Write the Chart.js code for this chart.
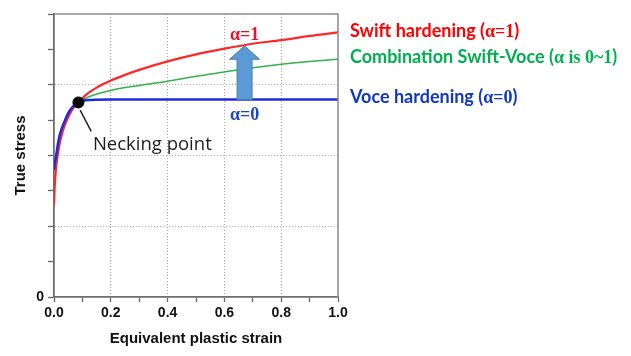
<!DOCTYPE html>
<html>
<head>
<meta charset="utf-8">
<script src="https://cdn.jsdelivr.net/npm/chart.js@4.4.1/dist/chart.umd.min.js"></script>
<style>
html,body{margin:0;padding:0;background:#fff;}
canvas{display:block;}
</style>
</head>
<body>
<canvas id="c" width="631" height="356"></canvas>
<script>
// ---- data ----
const swiftStrain = [0, 0.002, 0.005, 0.01, 0.015, 0.02, 0.03, 0.04, 0.05, 0.06, 0.07, 0.086, 0.1, 0.12, 0.15, 0.2, 0.25, 0.3, 0.4, 0.5, 0.6, 0.7, 0.8, 0.9, 1.0];
const swiftStress = [1.30, 1.52, 1.72, 1.92, 2.05, 2.17, 2.33, 2.45, 2.54, 2.62, 2.68, 2.75, 2.81, 2.88, 2.96, 3.06, 3.14, 3.21, 3.33, 3.43, 3.51, 3.58, 3.63, 3.69, 3.74];

const voceStrain = [0, 0.003, 0.007, 0.012, 0.019, 0.027, 0.039, 0.05, 0.062, 0.075, 0.086, 0.1, 0.13, 0.2, 0.4, 0.6, 0.8, 1.0];
const voceStress = [1.80, 1.90, 1.98, 2.12, 2.27, 2.38, 2.50, 2.60, 2.67, 2.72, 2.75, 2.775, 2.785, 2.79, 2.79, 2.79, 2.79, 2.79];

const comboStrain = [0.086, 0.1, 0.2, 0.3, 0.4, 0.5, 0.6, 0.7, 0.8, 0.9, 1.0];
const comboStress = [2.75, 2.79, 2.92, 2.99, 3.05, 3.12, 3.18, 3.24, 3.29, 3.33, 3.36];

const neckingPoint = [0.086, 2.75];

const xTickStep = 0.1;
const yTickStep = 0.5;
const xRange = [0, 1.0];
const yRange = [0, 4];

const seriesNames = ['Swift hardening', 'Combination Swift-Voce', 'Voce hardening', 'Necking point'];
const xTitle = 'Equivalent plastic strain';
const yTitle = 'True stress';

// ---- helpers ----
function pts(xs, ys){ return xs.map((x,i)=>({x:x, y:ys[i]})); }

const SANS = '"Liberation Sans", Arial, sans-serif';
const LBL = 'Lato, "Open Sans", sans-serif';
const SERIF = '"Liberation Serif", "Times New Roman", serif';

// annotation layout (positions in data units, styles separate)
const notes = {
  neckLeaderFrom: [0.092, 2.64],
  neckLeaderTo: [0.131, 2.34],
  neckText: [0.137, 2.15],
  alpha1: [0.671, 3.70],
  alpha0: [0.671, 2.57],
  arrow: {x: 0.671, base: 2.79, head: 3.36, tip: 3.55},
  rightLabels: [
    {y: 3.77, color: '#FF0000', runs: [['Swift hardening (', 'sans'], ['α=1', 'serif'], [')', 'sans']]},
    {y: 3.40, color: '#00B050', runs: [['Combination Swift-Voce (', 'sans'], ['α is 0~1', 'serif'], [')', 'sans']]},
    {y: 2.83, color: '#1038C0', runs: [['Voce hardening (', 'sans'], ['α=0', 'serif'], [')', 'sans']]}
  ]
};

function drawRuns(ctx, runs, x, y, size){
  ctx.textBaseline = 'alphabetic';
  const base = y + size * 0.36;
  for (const [t, kind] of runs){
    ctx.font = kind === 'serif' ? 'bold ' + size + 'px ' + SERIF : 'bold ' + size + 'px ' + LBL;
    ctx.fillText(t, x, base);
    x += ctx.measureText(t).width;
  }
}

const annotate = {
  id: 'annotate',
  afterDatasetsDraw(chart){
    const ctx = chart.ctx, xs = chart.scales.x, ys = chart.scales.y, ca = chart.chartArea;
    const X = v => xs.getPixelForValue(v), Y = v => ys.getPixelForValue(v);
    ctx.save();
    // frame top/right
    ctx.strokeStyle = '#8a8a8a';
    ctx.lineWidth = 1.5;
    ctx.beginPath();
    ctx.moveTo(ca.left, ca.top); ctx.lineTo(ca.right, ca.top); ctx.lineTo(ca.right, ca.bottom);
    ctx.stroke();

    // arrow
    const a = notes.arrow;
    const ax = X(a.x);
    ctx.beginPath();
    ctx.moveTo(ax - 7.5, Y(a.base));
    ctx.lineTo(ax - 7.5, Y(a.head));
    ctx.lineTo(ax - 15, Y(a.head));
    ctx.lineTo(ax, Y(a.tip));
    ctx.lineTo(ax + 15, Y(a.head));
    ctx.lineTo(ax + 7.5, Y(a.head));
    ctx.lineTo(ax + 7.5, Y(a.base));
    ctx.closePath();
    ctx.fillStyle = '#5B9BD5';
    ctx.fill();
    ctx.strokeStyle = '#4A7FB0';
    ctx.lineWidth = 1;
    ctx.stroke();

    // necking leader
    ctx.strokeStyle = '#222';
    ctx.lineWidth = 1.5;
    ctx.beginPath();
    ctx.moveTo(X(notes.neckLeaderFrom[0]), Y(notes.neckLeaderFrom[1]));
    ctx.lineTo(X(notes.neckLeaderTo[0]), Y(notes.neckLeaderTo[1]));
    ctx.stroke();

    ctx.textBaseline = 'middle';
    ctx.textAlign = 'left';
    ctx.fillStyle = '#1e1e1e';
    ctx.font = '18.5px "Open Sans", "Noto Sans", sans-serif';
    ctx.fillText('Necking point', X(notes.neckText[0]), Y(notes.neckText[1]));

    // alpha labels
    ctx.textAlign = 'center';
    ctx.font = 'bold 18px ' + SERIF;
    ctx.fillStyle = '#E8102A';
    ctx.fillText('α=1', X(notes.alpha1[0]), Y(notes.alpha1[1]));
    ctx.fillStyle = '#1A46C8';
    ctx.fillText('α=0', X(notes.alpha0[0]), Y(notes.alpha0[1]));

    // right labels
    ctx.textAlign = 'left';
    for (const r of notes.rightLabels){
      ctx.fillStyle = r.color;
      drawRuns(ctx, r.runs, ca.right + 12, Y(r.y), 18);
    }
    ctx.restore();
  }
};

new Chart(document.getElementById('c'), {
  type: 'scatter',
  data: {
    datasets: [
      {label: seriesNames[3], data: [{x: neckingPoint[0], y: neckingPoint[1]}], showLine: false,
       pointRadius: 5.5, pointBackgroundColor: '#000', pointBorderColor: '#000', order: 0},
      {label: seriesNames[2], data: pts(voceStrain, voceStress), showLine: true, pointRadius: 0,
       borderColor: '#2028E0', borderWidth: 2.5, cubicInterpolationMode: 'monotone', order: 1},
      {label: seriesNames[0], data: pts(swiftStrain, swiftStress), showLine: true, pointRadius: 0,
       borderColor: '#FF2828', borderWidth: 2.2, cubicInterpolationMode: 'monotone', order: 2},
      {label: seriesNames[1], data: pts(comboStrain, comboStress), showLine: true, pointRadius: 0,
       borderColor: '#33B24E', borderWidth: 1.5, cubicInterpolationMode: 'monotone', order: 3}
    ]
  },
  options: {
    responsive: false,
    animation: false,
    devicePixelRatio: 1,
    layout: {padding: {left: 0, top: 14, right: 293, bottom: 0}},
    plugins: {legend: {display: false}, tooltip: {enabled: false}},
    scales: {
      x: {
        type: 'linear', min: xRange[0], max: xRange[1],
        afterFit(s){ s.height = 59; },
        ticks: {
          stepSize: xTickStep, autoSkip: false, maxRotation: 0, padding: 3,
          color: '#111', font: {family: SANS, size: 14, weight: 'bold'},
          callback(v){ const k = Math.round(v * 10); return k % 2 === 0 ? (k / 10).toFixed(1) : ''; }
        },
        grid: {
          color(c){ const k = Math.round(c.tick.value * 10); return (k > 0 && k < 10 && k % 2 === 0) ? '#a8a8a8' : 'rgba(0,0,0,0)'; },
          lineWidth: 1, tickColor: '#666', tickLength: 5, tickWidth: 1.3, tickBorderDash: []
        },
        border: {display: true, color: '#6e6e6e', width: 1.8, dash: [1, 2]},
        title: {display: true, text: xTitle, color: '#111', font: {family: SANS, size: 15, weight: 'bold'}, padding: {top: 0, bottom: 8}}
      },
      y: {
        type: 'linear', min: yRange[0], max: yRange[1],
        afterFit(s){ s.width = 54; },
        ticks: {
          stepSize: yTickStep, autoSkip: false, padding: 4,
          color: '#111', font: {family: SANS, size: 14, weight: 'bold'},
          callback(v){ return v === 0 ? '0' : ''; }
        },
        grid: {
          color(c){ const v = c.tick.value; return (v === 1 || v === 2 || v === 3) ? '#a8a8a8' : 'rgba(0,0,0,0)'; },
          lineWidth: 1, tickColor: '#666', tickLength: 6, tickWidth: 1.3, tickBorderDash: []
        },
        border: {display: true, color: '#6e6e6e', width: 1.8, dash: [1, 2]},
        title: {display: true, text: yTitle, color: '#111', font: {family: SANS, size: 15, weight: 'bold'}, padding: {top: 12, bottom: 0}}
      }
    }
  },
  plugins: [annotate]
});
</script>
</body>
</html>
